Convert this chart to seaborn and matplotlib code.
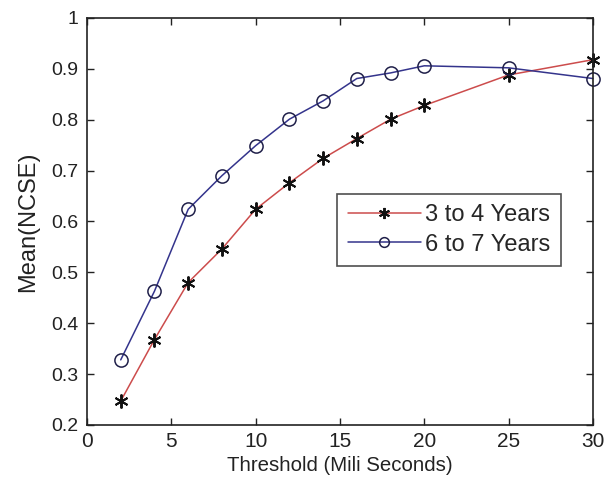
import numpy as np
import pandas as pd
import matplotlib
matplotlib.use("Agg")
import matplotlib.pyplot as plt
import seaborn as sns

# threshold values (ms)
thresholds = [2, 4, 6, 8, 10, 12, 14, 16, 18, 20, 25, 30]
ncse_3to4 = [0.247, 0.368, 0.480, 0.546, 0.624, 0.676, 0.724, 0.763, 0.801, 0.828, 0.888, 0.918]
ncse_6to7 = [0.328, 0.463, 0.624, 0.690, 0.749, 0.801, 0.837, 0.881, 0.892, 0.906, 0.902, 0.881]
groups = ["3 to 4 Years", "6 to 7 Years"]

x_ticks = [0, 5, 10, 15, 20, 25, 30]
y_ticks = [0.2, 0.3, 0.4, 0.5, 0.6, 0.7, 0.8, 0.9, 1.0]
y_labels = ["0.2", "0.3", "0.4", "0.5", "0.6", "0.7", "0.8", "0.9", "1"]

df = pd.DataFrame({
    "threshold": thresholds * 2,
    "ncse": ncse_3to4 + ncse_6to7,
    "group": [groups[0]] * len(thresholds) + [groups[1]] * len(thresholds),
})

sns.set_style("ticks")
plt.rcParams['font.family'] = ['Liberation Sans', 'DejaVu Sans']

fig = plt.figure(figsize=(6.11, 4.82), dpi=100)
ax = fig.add_axes([0.1424, 0.1183, 0.828, 0.8444])

palette = {groups[0]: "#cc4c4c", groups[1]: "#34348c"}
markers = {groups[0]: "*", groups[1]: "o"}
sns.lineplot(data=df, x="threshold", y="ncse", hue="group", style="group",
             palette=palette, markers=markers, dashes=False, ax=ax,
             linewidth=1.1, markersize=9)


def style_marker(line):
    # matlab-like markers: 6-arm asterisk and open circle
    if line.get_marker() == "o":
        line.set_markeredgecolor("#20204a")
        line.set_markerfacecolor("none")
        line.set_markersize(9.5)
        line.set_markeredgewidth(1.1)
    elif line.get_marker() == "*":
        line.set_marker((6, 2, 0))
        line.set_markeredgecolor("#111111")
        line.set_markersize(10)
        line.set_markeredgewidth(1.4)


for line in ax.get_lines():
    style_marker(line)
    line.set_clip_on(False)

ax.set_xlim(0, 30)
ax.set_ylim(0.2, 1.0)
ax.set_xticks(x_ticks)
ax.set_yticks(y_ticks)
ax.set_yticklabels(y_labels)
ax.tick_params(direction="in", top=True, right=True, length=5, width=1,
               colors="#222222")
ax.tick_params(axis="x", labelsize=15, pad=5)
ax.tick_params(axis="y", labelsize=14, pad=6)
for sp in ax.spines.values():
    sp.set_visible(True)
    sp.set_linewidth(1.2)
    sp.set_color("#222222")

ax.set_xlabel("Threshold (Mili Seconds)", fontsize=14.7, labelpad=4, color="#222222")
ax.set_ylabel("Mean(NCSE)", fontsize=17, labelpad=9, color="#222222")

leg = ax.legend(loc="upper left", bbox_to_anchor=(0.494, 0.568), fontsize=17,
                frameon=True, fancybox=False, edgecolor="#222222",
                handlelength=3.1, borderpad=0.45, labelspacing=0.3,
                handletextpad=0.2, borderaxespad=0)
leg.get_frame().set_linewidth(1.2)
for h in leg.legend_handles:
    style_marker(h)
    if h.get_marker() == "o":
        h.set_markersize(7)
    else:
        h.set_markersize(8)

fig.savefig("out.png", dpi=100)
